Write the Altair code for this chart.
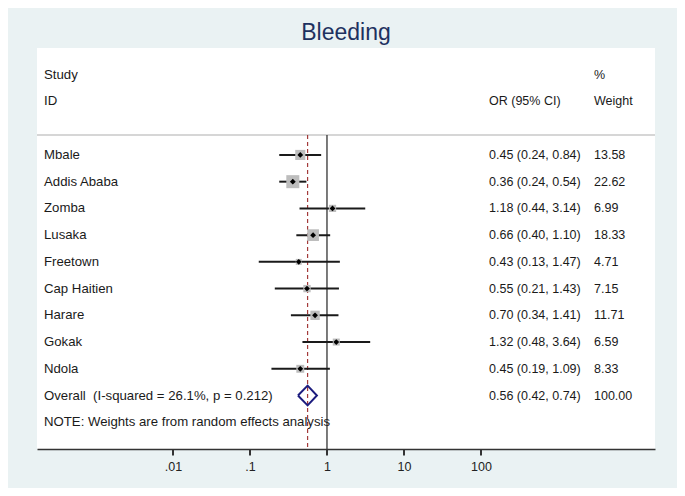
import altair as alt
import pandas as pd

# ---- data ----
studies = ["Mbale", "Addis Ababa", "Zomba", "Lusaka", "Freetown",
           "Cap Haitien", "Harare", "Gokak", "Ndola"]
odds = [0.45, 0.36, 1.18, 0.66, 0.43, 0.55, 0.70, 1.32, 0.45]
ci_lo = [0.24, 0.24, 0.44, 0.40, 0.13, 0.21, 0.34, 0.48, 0.19]
ci_hi = [0.84, 0.54, 3.14, 1.10, 1.47, 1.43, 1.41, 3.64, 1.09]
weights = [13.58, 22.62, 6.99, 18.33, 4.71, 7.15, 11.71, 6.59, 8.33]

overall_or = 0.56
overall_lo = 0.42
overall_hi = 0.74
overall_label = "Overall\u00a0 (I-squared = 26.1%, p = 0.212)"
note = "NOTE: Weights are from random effects analysis"
tick_values = [0.01, 0.1, 1, 10, 100]

FONT = "Liberation Sans"
FS_LABEL = 13.2
FS_NUM = 12.5

study_rows = list(range(3, 3 + len(studies)))
overall_row = 12
note_row = 13
sep_row = 2.25
axis_row = 14

studies_df = pd.DataFrame({
    "study": studies, "or": odds, "lo": ci_lo, "hi": ci_hi, "w": weights,
    "row": study_rows,
    "ci": [f"{o:.2f} ({l:.2f}, {h:.2f})" for o, l, h in zip(odds, ci_lo, ci_hi)],
    "wt": [f"{w:.2f}" for w in weights],
})
studies_df["box"] = studies_df["w"] * 7.5

left_text = pd.DataFrame({
    "row": [0, 1] + study_rows + [overall_row, note_row],
    "text": ["Study", "ID"] + studies + [overall_label, note],
})
or_text = pd.DataFrame({
    "row": [1] + study_rows + [overall_row],
    "text": ["OR (95% CI)"] + list(studies_df["ci"]) +
            [f"{overall_or:.2f} ({overall_lo:.2f}, {overall_hi:.2f})"],
})
wt_text = pd.DataFrame({
    "row": [0, 1] + study_rows + [overall_row],
    "text": ["%", "Weight"] + list(studies_df["wt"]) + ["100.00"],
})

diamond = pd.DataFrame({
    "x": [overall_lo, overall_or, overall_hi, overall_or, overall_lo],
    "row": [overall_row, overall_row - 0.37, overall_row,
            overall_row + 0.37, overall_row],
    "order": [0, 1, 2, 3, 4],
})
null_line = pd.DataFrame({"x": [1], "row": [sep_row], "row2": [axis_row]})
ov_line = pd.DataFrame({"x": [overall_or], "row": [sep_row], "row2": [axis_row]})
sep_df = pd.DataFrame({"row": [sep_row]})
tick_df = pd.DataFrame({"x": tick_values, "row": [axis_row] * 5})

W, H = 618, 401
xscale = alt.Scale(type="log", domain=[10 ** -3.766, 10 ** 4.26], nice=False)
yscale = alt.Scale(domain=[-1, axis_row], reverse=True, nice=False, zero=False)

xaxis = alt.Axis(values=tick_values, title=None, grid=False, ticks=False,
                 labelExpr="datum.value == 0.01 ? '.01' : datum.value == 0.1 ? '.1' : format(datum.value, 'd')",
                 domain=True, domainColor="#333333", domainWidth=1.5,
                 labelFont=FONT, labelFontSize=12.5,
                 labelColor="#222222", labelPadding=11, labelFlush=False)

Y = lambda f="row": alt.Y(f"{f}:Q", scale=yscale, axis=None)

sep = alt.Chart(sep_df).mark_rule(color="#D6D6D6", strokeWidth=2).encode(
    x=alt.value(0), x2=alt.value(W), y=Y())

nline = alt.Chart(null_line).mark_rule(color="#333333", strokeWidth=1.3).encode(
    x=alt.X("x:Q", scale=xscale, axis=xaxis), y=Y(), y2="row2:Q")

oline = alt.Chart(ov_line).mark_rule(color="#A33A3A", strokeWidth=1.2,
                                     strokeDash=[4, 3]).encode(
    x=alt.X("x:Q", scale=xscale), y=Y(), y2="row2:Q")

# axis tick marks hanging below the axis line
ticks = alt.Chart(tick_df).mark_point(shape="M0,0L0,1", strokeWidth=2,
                                      color="#333333", size=169, opacity=1,
                                      filled=False).encode(
    x=alt.X("x:Q", scale=xscale), y=Y())

boxes = alt.Chart(studies_df).mark_square(color="#BDBDBD", opacity=1).encode(
    x=alt.X("or:Q", scale=xscale), y=Y(),
    size=alt.Size("box:Q", scale=None, legend=None))

cis = alt.Chart(studies_df).mark_rule(color="#1A1A1A", strokeWidth=2).encode(
    x=alt.X("lo:Q", scale=xscale), x2="hi:Q", y=Y())

pts = alt.Chart(studies_df).mark_point(shape="diamond", filled=True,
                                       color="#000000", size=34, opacity=1).encode(
    x=alt.X("or:Q", scale=xscale), y=Y())

diam = alt.Chart(diamond).mark_line(color="#1C1C7E", strokeWidth=2).encode(
    x=alt.X("x:Q", scale=xscale), y=Y(), order="order:Q")

def txt(df, xpix, fs):
    return alt.Chart(df).mark_text(align="left", baseline="middle", font=FONT,
                                   fontSize=fs, color="#1A1A1A").encode(
        x=alt.value(xpix), y=Y(), text="text:N")

chart = alt.layer(
    sep, nline, oline, cis, boxes, pts, diam,
    txt(left_text, 7, FS_LABEL), txt(or_text, 452, FS_NUM), txt(wt_text, 557, FS_NUM),
    ticks,
).properties(
    width=W, height=H,
    title=alt.TitleParams("Bleeding", font=FONT, fontSize=23, fontWeight="normal",
                          color="#1E3160", anchor="middle", offset=3),
    background="#EAF2F3",
    padding={"left": 29, "top": 40, "right": 22, "bottom": 39},
    autosize=alt.AutoSizeParams(type="none"),
).configure_view(fill="white", strokeWidth=0)

chart.save("out.html", embed_options={"renderer": "svg", "actions": False})
